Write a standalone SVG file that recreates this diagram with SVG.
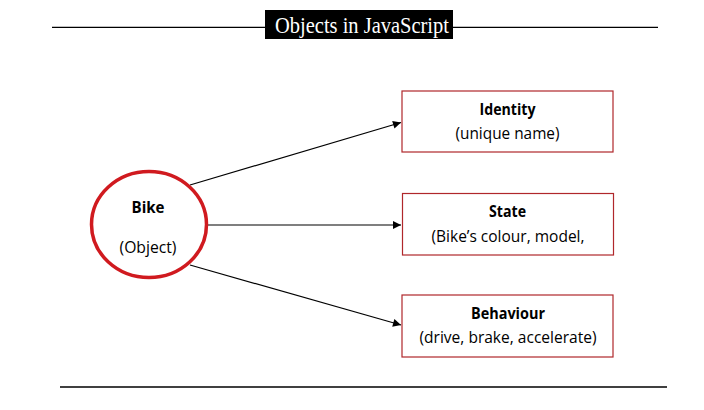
<svg xmlns="http://www.w3.org/2000/svg" width="704" height="410" viewBox="0 0 704 410">
<defs>
<style>
.rule{stroke:#000;stroke-width:1.3;fill:none}
.box{fill:#fff;stroke:#b0272b;stroke-width:1.2}
.lbl{font-family:"Open Sans","Liberation Sans",sans-serif;font-size:16px;fill:#000;text-anchor:middle}
.b{font-weight:bold}
.conn{stroke:#000;stroke-width:1.2;fill:none;marker-end:url(#ah)}
.title{font-family:"Liberation Serif","DejaVu Serif",serif;font-size:23px;fill:#fff}
</style>
<marker id="ah" viewBox="0 0 10 10" refX="10" refY="5" markerWidth="10" markerHeight="8" markerUnits="userSpaceOnUse" orient="auto">
<path d="M0,0 L10,5 L0,10 z" fill="#000"/>
</marker>
</defs>
<rect width="704" height="410" fill="#fff"/>
<g id="header">
<line class="rule" x1="52" y1="27.3" x2="658" y2="27.3"/>
<rect x="265" y="10" width="188" height="29" fill="#000"/>
<text class="title" x="275" y="32.5" textLength="174" lengthAdjust="spacingAndGlyphs">Objects in JavaScript</text>
</g>
<line id="footer" class="rule" x1="60" y1="387" x2="667" y2="387"/>
<g id="connectors">
<line class="conn" x1="190" y1="185" x2="401" y2="122.5"/>
<line class="conn" x1="208" y1="225" x2="401" y2="225"/>
<line class="conn" x1="190" y1="265" x2="401" y2="325"/>
</g>
<g id="bike">
<ellipse cx="149" cy="224.5" rx="57.5" ry="53" fill="#fff" stroke="#d01a1f" stroke-width="3.5"/>
<text class="lbl b" x="148" y="212.5" textLength="33" lengthAdjust="spacingAndGlyphs">Bike</text>
<text class="lbl" x="148" y="253" textLength="57" lengthAdjust="spacingAndGlyphs">(Object)</text>
</g>
<g id="identity">
<rect class="box" x="402" y="91" width="211" height="61"/>
<text class="lbl b" x="507.5" y="114.5" textLength="56" lengthAdjust="spacingAndGlyphs">Identity</text>
<text class="lbl" x="507.5" y="139" textLength="104" lengthAdjust="spacingAndGlyphs">(unique name)</text>
</g>
<g id="state">
<rect class="box" x="402.5" y="193.5" width="211" height="61.5"/>
<text class="lbl b" x="507.5" y="217" textLength="37" lengthAdjust="spacingAndGlyphs">State</text>
<text class="lbl" x="508" y="242" textLength="153" lengthAdjust="spacingAndGlyphs">(Bike’s colour, model,</text>
</g>
<g id="behaviour">
<rect class="box" x="402" y="295" width="211" height="62"/>
<text class="lbl b" x="508" y="318.5" textLength="74" lengthAdjust="spacingAndGlyphs">Behaviour</text>
<text class="lbl" x="508" y="343" textLength="177" lengthAdjust="spacingAndGlyphs">(drive, brake, accelerate)</text>
</g>
</svg>
